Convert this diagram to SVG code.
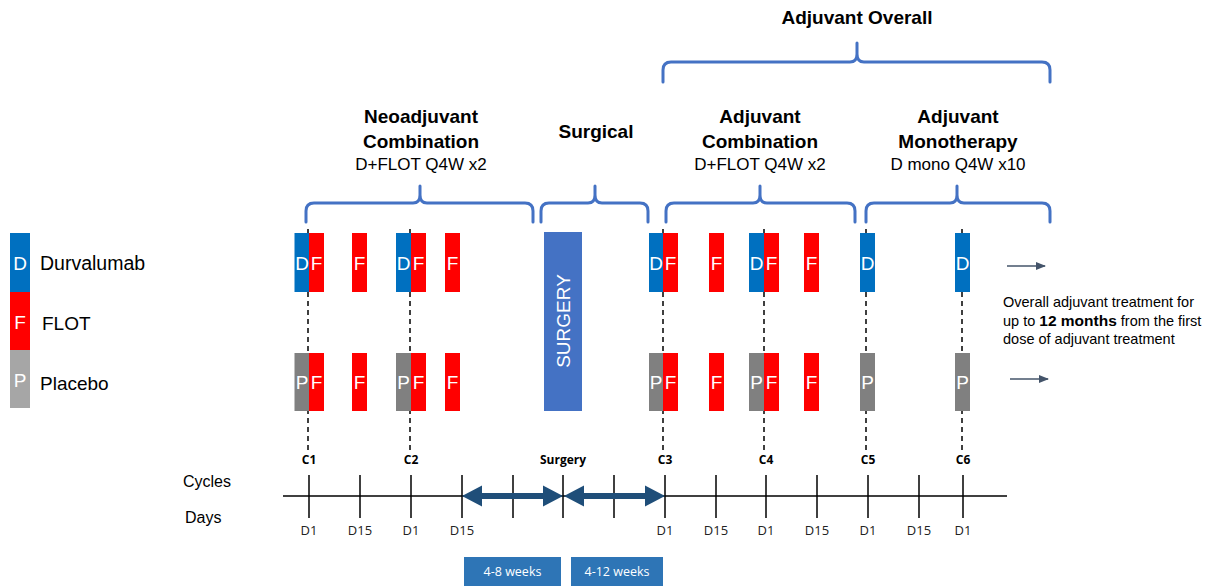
<svg xmlns="http://www.w3.org/2000/svg" width="1212" height="588" viewBox="0 0 1212 588">
<defs>
<style>
.t{font-family:"Liberation Sans",Arial,sans-serif;fill:#000}
.h{font-family:"Liberation Sans",Arial,sans-serif;font-weight:bold;font-size:19px;text-anchor:middle;fill:#000}
.s{font-family:"Liberation Sans",Arial,sans-serif;font-size:17px;text-anchor:middle;fill:#000}
.bl{fill:#0070C0}
.rd{fill:#FF0000}
.gy{fill:#808080}
.bt{font-family:"Liberation Sans",Arial,sans-serif;font-size:19px;fill:#fff;text-anchor:middle}
.brace{fill:none;stroke:#4472C4;stroke-width:3;stroke-linecap:round;stroke-linejoin:round}
.dash{stroke:#000;stroke-width:1.5;stroke-dasharray:5,4}
.tick{stroke:#000;stroke-width:1.5}
.cl{font-family:"Open Sans","Liberation Sans",sans-serif;font-weight:bold;font-size:12px;text-anchor:middle;fill:#000}
.dl{font-family:"Open Sans","Liberation Sans",sans-serif;font-size:13px;text-anchor:middle;fill:#222}
.wk{font-family:"Open Sans","Liberation Sans",sans-serif;font-size:12.5px;text-anchor:middle;fill:#fff}
</style>
<marker id="ah" markerWidth="10" markerHeight="8" refX="9" refY="4" orient="auto" markerUnits="userSpaceOnUse">
<path d="M0,0 L10,4 L0,8 Z" fill="#44546A"/>
</marker>
</defs>
<rect width="1212" height="588" fill="#fff"/>

<!-- Headers -->
<g id="hdr-overall">
<text class="h" x="857" y="24">Adjuvant Overall</text>
<path class="brace" d="M663,82 L663,70 Q663,62 671,62 L850,62 Q857,62 857,54 L857,43 M857,43 L857,54 Q857,62 864,62 L1042,62 Q1050,62 1050,70 L1050,82"/>
</g>
<g id="hdr-neo">
<text class="h" x="421" y="123">Neoadjuvant</text>
<text class="h" x="421" y="148">Combination</text>
<text class="s" x="421" y="170">D+FLOT Q4W x2</text>
<path class="brace" d="M306,222 L306,211 Q306,203 314,203 L413,203 Q420,203 420,195 L420,186 M420,186 L420,195 Q420,203 427,203 L525,203 Q533,203 533,211 L533,222"/>
</g>
<g id="hdr-surg">
<text class="h" x="596" y="138">Surgical</text>
<path class="brace" d="M541,222 L541,211 Q541,203 549,203 L588,203 Q595,203 595,195 L595,186 M595,186 L595,195 Q595,203 602,203 L640,203 Q648,203 648,211 L648,222"/>
</g>
<g id="hdr-adjcomb">
<text class="h" x="760" y="123">Adjuvant</text>
<text class="h" x="760" y="148">Combination</text>
<text class="s" x="760" y="170">D+FLOT Q4W x2</text>
<path class="brace" d="M666,222 L666,211 Q666,203 674,203 L753,203 Q760,203 760,195 L760,186 M760,186 L760,195 Q760,203 767,203 L847,203 Q855,203 855,211 L855,222"/>
</g>
<g id="hdr-mono">
<text class="h" x="958" y="123">Adjuvant</text>
<text class="h" x="958" y="148">Monotherapy</text>
<text class="s" x="958" y="170">D mono Q4W x10</text>
<path class="brace" d="M866,222 L866,211 Q866,203 874,203 L950,203 Q957,203 957,195 L957,186 M957,186 L957,195 Q957,203 964,203 L1042,203 Q1050,203 1050,211 L1050,222"/>
</g>

<!-- Legend -->
<g id="legend">
<rect x="10" y="233" width="20" height="59" class="bl"/>
<rect x="10" y="292" width="20" height="58" class="rd"/>
<rect x="10" y="350" width="20" height="58" fill="#A6A6A6"/>
<text class="bt" x="20" y="270">D</text>
<text class="bt" x="20" y="329">F</text>
<text class="bt" x="20" y="387">P</text>
<text class="t" x="40" y="270" font-size="19.5">Durvalumab</text>
<text class="t" x="42" y="330" font-size="19">FLOT</text>
<text class="t" x="40" y="390" font-size="19">Placebo</text>
</g>

<!-- Dashed cycle lines -->
<g id="connectors">
<line class="dash" x1="308" y1="229" x2="308" y2="450"/>
<line class="dash" x1="410" y1="229" x2="410" y2="450"/>
<line class="dash" x1="663" y1="229" x2="663" y2="450"/>
<line class="dash" x1="764" y1="229" x2="764" y2="450"/>
<line class="dash" x1="866" y1="229" x2="866" y2="450"/>
<line class="dash" x1="962" y1="229" x2="962" y2="450"/>
<line x1="1007" y1="266" x2="1045" y2="266" stroke="#44546A" stroke-width="1.5" marker-end="url(#ah)"/>
<line x1="1010" y1="379" x2="1048" y2="379" stroke="#44546A" stroke-width="1.5" marker-end="url(#ah)"/>
</g>

<!-- Dose bars -->
<g id="c1">
<rect x="294.5" y="233" width="14.5" height="59" class="bl"/><rect x="309" y="233" width="15" height="59" class="rd"/>
<text class="bt" x="302" y="270">D</text><text class="bt" x="316.5" y="270">F</text>
<rect x="294.5" y="353" width="14.5" height="58" class="gy"/><rect x="309" y="353" width="15" height="58" class="rd"/>
<text class="bt" x="302" y="389">P</text><text class="bt" x="316.5" y="389">F</text>
</g>
<g id="c1d15">
<rect x="352" y="233" width="15" height="59" class="rd"/><text class="bt" x="359.5" y="270">F</text>
<rect x="352" y="353" width="15" height="58" class="rd"/><text class="bt" x="359.5" y="389">F</text>
</g>
<g id="c2">
<rect x="396" y="233" width="15" height="59" class="bl"/><rect x="411" y="233" width="15" height="59" class="rd"/>
<text class="bt" x="403.5" y="270">D</text><text class="bt" x="418.5" y="270">F</text>
<rect x="396" y="353" width="15" height="58" class="gy"/><rect x="411" y="353" width="15" height="58" class="rd"/>
<text class="bt" x="403.5" y="389">P</text><text class="bt" x="418.5" y="389">F</text>
</g>
<g id="c2d15">
<rect x="445" y="233" width="15" height="59" class="rd"/><text class="bt" x="452.5" y="270">F</text>
<rect x="445" y="353" width="15" height="58" class="rd"/><text class="bt" x="452.5" y="389">F</text>
</g>
<g id="surgery">
<rect x="544" y="232" width="38" height="179" fill="#4472C4"/>
<text class="bt" transform="translate(569.5,321) rotate(-90)" x="0" y="0" font-size="19.5" font-family="Open Sans, Liberation Sans, sans-serif">SURGERY</text>
</g>
<g id="c3">
<rect x="649" y="233" width="14" height="59" class="bl"/><rect x="663" y="233" width="15" height="59" class="rd"/>
<text class="bt" x="656" y="270">D</text><text class="bt" x="670.5" y="270">F</text>
<rect x="649" y="353" width="14" height="58" class="gy"/><rect x="663" y="353" width="15" height="58" class="rd"/>
<text class="bt" x="656" y="389">P</text><text class="bt" x="670.5" y="389">F</text>
</g>
<g id="c3d15">
<rect x="709" y="233" width="15" height="59" class="rd"/><text class="bt" x="716.5" y="270">F</text>
<rect x="709" y="353" width="15" height="58" class="rd"/><text class="bt" x="716.5" y="389">F</text>
</g>
<g id="c4">
<rect x="749" y="233" width="15" height="59" class="bl"/><rect x="764" y="233" width="15" height="59" class="rd"/>
<text class="bt" x="756.5" y="270">D</text><text class="bt" x="771.5" y="270">F</text>
<rect x="749" y="353" width="15" height="58" class="gy"/><rect x="764" y="353" width="15" height="58" class="rd"/>
<text class="bt" x="756.5" y="389">P</text><text class="bt" x="771.5" y="389">F</text>
</g>
<g id="c4d15">
<rect x="804" y="233" width="15" height="59" class="rd"/><text class="bt" x="811.5" y="270">F</text>
<rect x="804" y="353" width="15" height="58" class="rd"/><text class="bt" x="811.5" y="389">F</text>
</g>
<g id="c5">
<rect x="860" y="233" width="15" height="59" class="bl"/><text class="bt" x="867.5" y="270">D</text>
<rect x="860" y="353" width="15" height="58" class="gy"/><text class="bt" x="867.5" y="389">P</text>
</g>
<g id="c6">
<rect x="955" y="233" width="15" height="59" class="bl"/><text class="bt" x="962.5" y="270">D</text>
<rect x="955" y="353" width="15" height="58" class="gy"/><text class="bt" x="962.5" y="389">P</text>
</g>

<g id="note">
<text class="t" font-size="14.5" x="1003" y="307">Overall adjuvant treatment for</text>
<text class="t" font-size="14.5" x="1003" y="326">up to <tspan font-weight="bold" font-size="15.5">12 months</tspan> from the first</text>
<text class="t" font-size="14.5" x="1003" y="344">dose of adjuvant treatment</text>
</g>

<!-- Timeline -->
<g id="timeline">
<text class="t" font-size="16" x="183" y="487">Cycles</text>
<text class="t" font-size="16" x="185" y="523">Days</text>
<line x1="283" y1="496" x2="1007" y2="496" class="tick"/>
<g class="tick">
<line x1="309" y1="475" x2="309" y2="518"/><line x1="360" y1="475" x2="360" y2="518"/>
<line x1="411" y1="475" x2="411" y2="518"/><line x1="462" y1="475" x2="462" y2="518"/>
<line x1="513" y1="475" x2="513" y2="518"/><line x1="563" y1="475" x2="563" y2="518"/>
<line x1="614" y1="475" x2="614" y2="518"/><line x1="665" y1="475" x2="665" y2="518"/>
<line x1="716" y1="475" x2="716" y2="518"/><line x1="766" y1="475" x2="766" y2="518"/>
<line x1="817" y1="475" x2="817" y2="518"/><line x1="868" y1="475" x2="868" y2="518"/>
<line x1="919" y1="475" x2="919" y2="518"/><line x1="963" y1="475" x2="963" y2="518"/>
</g>
<text class="cl" x="309" y="464">C1</text><text class="cl" x="411" y="464">C2</text>
<text class="cl" x="563" y="464">Surgery</text><text class="cl" x="665" y="464">C3</text>
<text class="cl" x="766" y="464">C4</text><text class="cl" x="868" y="464">C5</text>
<text class="cl" x="963" y="464">C6</text>
<text class="dl" x="309" y="535">D1</text><text class="dl" x="360" y="535">D15</text>
<text class="dl" x="411" y="535">D1</text><text class="dl" x="462" y="535">D15</text>
<text class="dl" x="665" y="535">D1</text><text class="dl" x="716" y="535">D15</text>
<text class="dl" x="766" y="535">D1</text><text class="dl" x="817" y="535">D15</text>
<text class="dl" x="868" y="535">D1</text><text class="dl" x="919" y="535">D15</text>
<text class="dl" x="963" y="535">D1</text>
</g>
<g id="interval-arrows" fill="#1F4E79">
<path d="M462,496 L482,485.5 L482,493 L543,493 L543,485.5 L563,496 L543,506.5 L543,499 L482,499 L482,506.5 Z"/>
<path d="M564,496 L584,485.5 L584,493 L645,493 L645,485.5 L665,496 L645,506.5 L645,499 L584,499 L584,506.5 Z"/>
</g>
<g id="wk1">
<rect x="464" y="557" width="97" height="29" fill="#2E75B6"/>
<text class="wk" x="512.5" y="576">4-8 weeks</text>
</g>
<g id="wk2">
<rect x="571" y="557" width="92" height="29" fill="#2E75B6"/>
<text class="wk" x="617" y="576">4-12 weeks</text>
</g>
</svg>
